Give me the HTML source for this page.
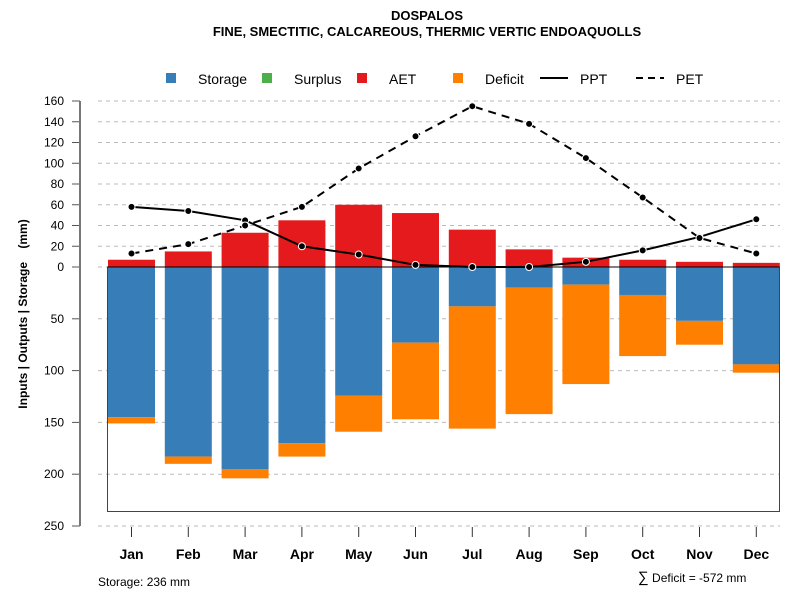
<!DOCTYPE html>
<html><head><meta charset="utf-8"><style>
body{margin:0;background:#fff}
svg text{font-family:"Liberation Sans",sans-serif}
</style></head><body>
<svg id="c" width="800" height="600">
<text x="427" y="20" text-anchor="middle" font-size="13" font-weight="bold">DOSPALOS</text>
<text x="427" y="36" text-anchor="middle" font-size="13" font-weight="bold">FINE, SMECTITIC, CALCAREOUS, THERMIC VERTIC ENDOAQUOLLS</text>
<g font-size="14">
<g><rect x="166" y="73" width="10" height="10" fill="#377eb8"/><text x="198" y="84">Storage</text></g>
<g><rect x="262" y="73" width="10" height="10" fill="#4daf4a"/><text x="294" y="84">Surplus</text></g>
<g><rect x="357" y="73" width="10" height="10" fill="#e41a1c"/><text x="389" y="84">AET</text></g>
<g><rect x="453" y="73" width="10" height="10" fill="#ff7f00"/><text x="485" y="84">Deficit</text></g>
<g><line x1="540" y1="78" x2="568" y2="78" stroke="#000" stroke-width="2"/><text x="580" y="84">PPT</text></g>
<g><line x1="636" y1="78" x2="664" y2="78" stroke="#000" stroke-width="2" stroke-dasharray="7,5"/><text x="676" y="84">PET</text></g>
</g>
<text transform="translate(27,314) rotate(-90)" text-anchor="middle" font-size="12" font-weight="bold" style="white-space:pre">Inputs | Outputs | Storage    (mm)</text>
<text x="98" y="586" font-size="12">Storage: 236 mm</text>
<text x="638" y="582" font-size="12"><tspan font-size="15">∑</tspan> Deficit = -572 mm</text>
<g id="g"></g>
</svg>
<script>
const months=["Jan","Feb","Mar","Apr","May","Jun","Jul","Aug","Sep","Oct","Nov","Dec"];
const aet=[7,15,33,45,60,52,36,17,9,7,5,4];
const storage=[145,183,195,170,124,73,38,20,17,27,52,94];
const deficit=[6,7,9,13,35,74,118,122,96,59,23,8];
const ppt=[58,54,45,20,12,2,0,0,5,16,29,46];
const pet=[13,22,40,58,95,126,155,138,105,67,28,13];
const upTicks=[0,20,40,60,80,100,120,140,160];
const downTicks=[50,100,150,200,250];
const storageMax=236;
const NS="http://www.w3.org/2000/svg",g=document.getElementById("g");
const y0=267,k=1.0375;
const yUp=v=>y0-v*k, yDn=v=>y0+v*1.036;
const xc=i=>131.5+i*56.8, bw=47;
function mk(t,a,p){const e=document.createElementNS(NS,t);for(const q in a)e.setAttribute(q,a[q]);(p||g).appendChild(e);return e;}
upTicks.forEach(v=>{const y=yUp(v);
 const l=mk("line",{x1:98,x2:780,y1:y,y2:y,stroke:"#bbb","stroke-dasharray":"4,4"});
 
 
 mk("line",{x1:72,x2:80,y1:y,y2:y,stroke:"#555"});
 const t=mk("text",{x:64,y:y+4,"text-anchor":"end","font-size":12});t.textContent=v;
 
 
});
downTicks.forEach(v=>{const y=yDn(v);
 const l=mk("line",{x1:98,x2:780,y1:y,y2:y,stroke:"#bbb","stroke-dasharray":"4,4"});
 
 
 mk("line",{x1:72,x2:80,y1:y,y2:y,stroke:"#555"});
 const t=mk("text",{x:64,y:y+4,"text-anchor":"end","font-size":12});t.textContent=v;
 
 
});
const ax=mk("line",{x1:80,x2:80,y1:yUp(160),y2:yDn(250),stroke:"#777","stroke-width":2});


months.forEach((m,i)=>{const x=xc(i);
 const a=mk("rect",{x:x-bw/2,y:yUp(aet[i]),width:bw,height:aet[i]*k,fill:"#e41a1c"});
 
 
 const s=mk("rect",{x:x-bw/2,y:y0,width:bw,height:yDn(storage[i])-y0,fill:"#377eb8"});
 
 
 const d=mk("rect",{x:x-bw/2,y:yDn(storage[i]),width:bw,height:yDn(storage[i]+deficit[i])-yDn(storage[i]),fill:"#ff7f00"});
 
 
 mk("line",{x1:x,x2:x,y1:527,y2:537,stroke:"#333"});
 const t=mk("text",{x:x,y:559,"text-anchor":"middle","font-size":14,"font-weight":"bold"});t.textContent=m;
 
 
});
const box=mk("rect",{x:107.5,y:y0,width:672,height:yDn(storageMax)-y0,fill:"none",stroke:"#444"});


const zl=mk("line",{x1:107.5,x2:779.5,y1:y0,y2:y0,stroke:"#000"});


function series(arr,name,dash){
 const p=mk("polyline",{points:arr.map((v,i)=>xc(i)+","+yUp(v)).join(" "),fill:"none",stroke:"#000","stroke-width":2,"stroke-dasharray":dash});
 
 
 arr.forEach((v,i)=>{const c=mk("circle",{cx:xc(i),cy:yUp(v),r:3.5,fill:"#000",stroke:"#fff","stroke-width":1});
  
  });
}
series(ppt,"ppt","none");
series(pet,"pet","8,6");
</script>
</body></html>
